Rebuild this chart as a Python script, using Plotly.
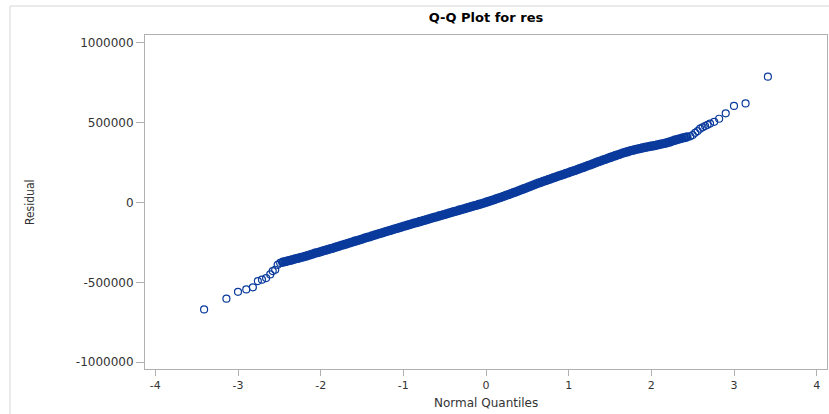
import plotly.graph_objects as go

# ---- data ----
left_q = [-3.41, -3.14, -3.00, -2.90, -2.82, -2.76, -2.71, -2.66, -2.61, -2.58, -2.55, -2.52, -2.49]
left_r = [-669000, -602000, -559000, -544000, -531000, -492000, -483000, -473000, -450000,
          -429000, -421000, -390000, -378000]

band_q = [-2.46, -2.43, -2.40, -2.37, -2.34, -2.31, -2.28, -2.25, -2.22, -2.19,
          -2.16, -2.13, -2.10, -2.07, -2.04, -2.01, -1.98, -1.95, -1.92, -1.89,
          -1.86, -1.83, -1.80, -1.77, -1.74, -1.71, -1.68, -1.65, -1.62, -1.59,
          -1.56, -1.53, -1.50, -1.47, -1.44, -1.41, -1.38, -1.35, -1.32, -1.29,
          -1.26, -1.23, -1.20, -1.17, -1.14, -1.11, -1.08, -1.05, -1.02, -0.99,
          -0.96, -0.93, -0.90, -0.87, -0.84, -0.81, -0.78, -0.75, -0.72, -0.69,
          -0.66, -0.63, -0.60, -0.57, -0.54, -0.51, -0.48, -0.45, -0.42, -0.39,
          -0.36, -0.33, -0.30, -0.27, -0.24, -0.21, -0.18, -0.15, -0.12, -0.09,
          -0.06, -0.03,
          0.00, 0.03, 0.06, 0.09, 0.12, 0.15, 0.18, 0.21, 0.24, 0.27,
          0.30, 0.33, 0.36, 0.39, 0.42, 0.45, 0.48, 0.51, 0.54, 0.57,
          0.60, 0.63, 0.66, 0.69, 0.72, 0.75, 0.78, 0.81, 0.84, 0.87,
          0.90, 0.93, 0.96, 0.99, 1.02, 1.05, 1.08, 1.11, 1.14, 1.17,
          1.20, 1.23, 1.26, 1.29, 1.32, 1.35, 1.38, 1.41, 1.44, 1.47,
          1.50, 1.53, 1.56, 1.59, 1.62, 1.65, 1.68, 1.71, 1.74, 1.77,
          1.80, 1.83, 1.86, 1.89, 1.92, 1.95, 1.98, 2.01, 2.04, 2.07,
          2.10, 2.13, 2.16, 2.19, 2.22, 2.25, 2.28, 2.31, 2.34, 2.37,
          2.40, 2.43]
band_r = [-374000, -370000, -366000, -362000, -358000, -354000, -350000, -346000, -342000, -337000,
          -333000, -328000, -323000, -318000, -314000, -310000, -305000, -300000, -296000, -291000,
          -287000, -282000, -277000, -272000, -267000, -263000, -258000, -253000, -248000, -243000,
          -239000, -234000, -229000, -224000, -219000, -215000, -210000, -205000, -200000, -195000,
          -191000, -186000, -181000, -176000, -172000, -167000, -162000, -158000, -153000, -148000,
          -144000, -139000, -135000, -130000, -126000, -121000, -117000, -112000, -108000, -103000,
          -99000, -94000, -90000, -85000, -81000, -76000, -72000, -67000, -63000, -58000,
          -54000, -49000, -45000, -40000, -36000, -31000, -27000, -22000, -18000, -13000,
          -9000, -4000,
          1000, 6000, 11000, 16000, 22000, 27000, 32000, 38000, 44000, 49000,
          55000, 61000, 66000, 72000, 78000, 84000, 90000, 96000, 102000, 108000,
          114000, 120000, 125000, 131000, 137000, 142000, 147000, 153000, 158000, 164000,
          169000, 174000, 180000, 185000, 191000, 196000, 201000, 207000, 213000, 218000,
          224000, 230000, 235000, 241000, 247000, 253000, 258000, 264000, 270000, 275000,
          281000, 286000, 292000, 297000, 302000, 308000, 313000, 317000, 322000, 326000,
          330000, 334000, 337000, 341000, 344000, 347000, 350000, 353000, 356000, 360000,
          363000, 367000, 370000, 374000, 378000, 383000, 389000, 393000, 398000, 402000,
          406000, 410000]

right_q = [2.47, 2.50, 2.53, 2.56, 2.59, 2.62, 2.65, 2.68, 2.71, 2.76, 2.82, 2.90, 3.00, 3.14, 3.41]
right_r = [414000, 422000, 436000, 447000, 462000, 470000, 478000, 486000, 494000, 505000,
           524000, 558000, 604000, 620000, 787000]

x_ticks = [-4, -3, -2, -1, 0, 1, 2, 3, 4]
x_tick_labels = ["-4", "-3", "-2", "-1", "0", "1", "2", "3", "4"]
y_ticks = [-1000000, -500000, 0, 500000, 1000000]
y_tick_labels = ["-1000000", "-500000", "0", "500000", "1000000"]

title_text = "Q-Q Plot for res"
x_title = "Normal Quantiles"
y_title = "Residual"

# ---- figure ----
BLUE = "#0a3a9c"
AXIS = "#b0b0b0"
FONT = "DejaVu Sans, Liberation Sans, Arial, sans-serif"

tail_q = left_q + right_q
tail_r = left_r + right_r

fig = go.Figure()
# dense central band: many overlapping rings in the original, drawn with a heavier ring stroke
fig.add_trace(go.Scatter(
    x=band_q, y=band_r, mode="markers",
    marker=dict(symbol="circle-open", size=7, color=BLUE, line=dict(width=2.4, color=BLUE)),
    hoverinfo="skip", showlegend=False,
))
# sparse tails
fig.add_trace(go.Scatter(
    x=tail_q, y=tail_r, mode="markers",
    marker=dict(symbol="circle-open", size=7, color=BLUE, line=dict(width=1.2, color=BLUE)),
    hoverinfo="skip", showlegend=False,
))

W, H = 829, 414
ml, mr, mt, mb = 145, 2, 35, 45
pw, ph = W - ml - mr, H - mt - mb

def px_x(p):
    return (p - ml) / pw

def px_y(p):
    return (H - mb - p) / ph

fig.update_layout(
    width=W, height=H,
    margin=dict(l=ml, r=mr, t=mt, b=mb, pad=0),
    paper_bgcolor="white", plot_bgcolor="white",
    title=dict(text="<b>" + title_text + "</b>", x=0.5, xref="paper", xanchor="center",
               y=1 - 17 / H, yref="container", yanchor="middle",
               font=dict(family=FONT, size=13, color="#000000")),
    xaxis=dict(range=[-4.125, 4.125], tickvals=x_ticks, ticktext=x_tick_labels,
               ticks="outside", ticklen=6, tickcolor=AXIS, tickwidth=1,
               showline=True, linecolor=AXIS, linewidth=1, mirror=True,
               showgrid=False, zeroline=False,
               tickfont=dict(family=FONT, size=11, color="#333333")),
    yaxis=dict(range=[-1042000, 1048000], tickvals=y_ticks, ticktext=y_tick_labels,
               ticks="outside", ticklen=8, tickcolor=AXIS, tickwidth=1,
               showline=True, linecolor=AXIS, linewidth=1, mirror=True,
               showgrid=False, zeroline=False,
               tickfont=dict(family=FONT, size=12, color="#333333")),
    annotations=[
        dict(text=x_title, xref="paper", yref="paper", x=0.5, y=px_y(403),
             xanchor="center", yanchor="middle", showarrow=False,
             font=dict(family=FONT, size=12, color="#333333")),
        dict(text=y_title, xref="paper", yref="paper", x=px_x(30), y=0.5,
             xanchor="center", yanchor="middle", showarrow=False, textangle=-90,
             font=dict(family="Liberation Sans Narrow, DejaVu Sans Condensed, sans-serif",
                       size=12, color="#333333")),
    ],
    shapes=[
        dict(type="line", xref="paper", yref="paper", x0=px_x(10), x1=px_x(10),
             y0=px_y(420), y1=px_y(6), line=dict(color="#d6d6d6", width=1)),
        dict(type="line", xref="paper", yref="paper", x0=px_x(10), x1=px_x(835),
             y0=px_y(6), y1=px_y(6), line=dict(color="#d6d6d6", width=1)),
    ],
)

fig.write_html("out.html")
